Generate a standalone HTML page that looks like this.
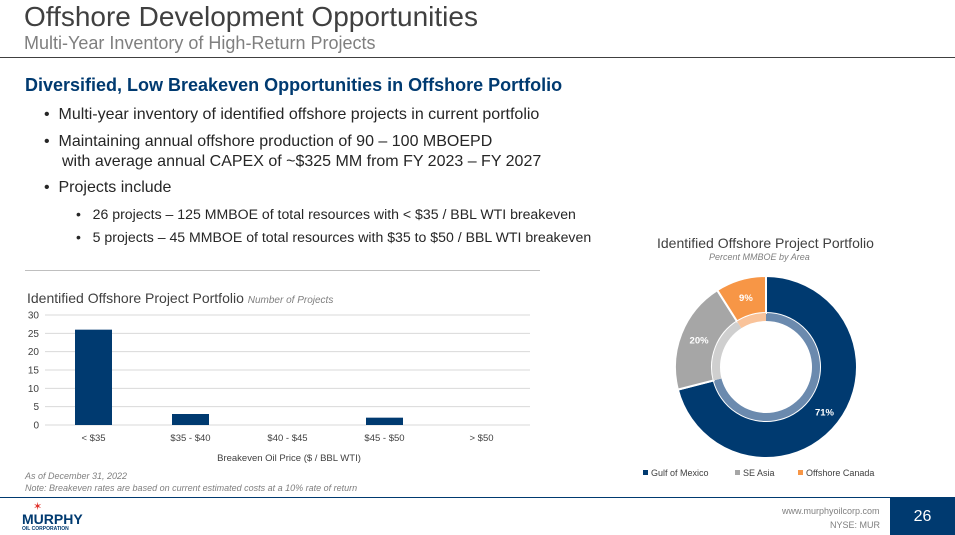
<!DOCTYPE html>
<html><head><meta charset="utf-8"><style>
body{margin:0;width:955px;height:535px;position:relative;background:#fff;font-family:"Liberation Sans",sans-serif;overflow:hidden}
.a{position:absolute;white-space:nowrap}
</style></head><body>
<div class="a" style="left:24px;top:1px;font-size:28px;color:#404040">Offshore Development Opportunities</div>
<div class="a" style="left:24px;top:33px;font-size:18px;color:#7f7f7f">Multi-Year Inventory of High-Return Projects</div>
<div class="a" style="left:0;top:57px;width:955px;height:1px;background:#404040"></div>
<div class="a" style="left:25px;top:75px;font-size:18px;font-weight:bold;color:#003a70">Diversified, Low Breakeven Opportunities in Offshore Portfolio</div>
<div style="position:absolute;left:44px;top:105px;font-size:16px;color:#262626;line-height:20px">
<div class="a" style="top:0">•&nbsp;&nbsp;Multi-year inventory of identified offshore projects in current portfolio</div>
<div class="a" style="top:27px">•&nbsp;&nbsp;Maintaining annual offshore production of 90 – 100 MBOEPD</div>
<div class="a" style="top:47px;left:18px">with average annual CAPEX of ~$325 MM from FY 2023 – FY 2027</div>
<div class="a" style="top:73px">•&nbsp;&nbsp;Projects include</div>
<div class="a" style="top:99px;left:32px;font-size:14.1px">•&nbsp;&nbsp;&nbsp;26 projects – 125 MMBOE of total resources with &lt; $35 / BBL WTI breakeven</div>
<div class="a" style="top:122px;left:32px;font-size:14.1px">•&nbsp;&nbsp;&nbsp;5 projects – 45 MMBOE of total resources with $35 to $50 / BBL WTI breakeven</div>
</div>
<div class="a" style="left:25px;top:270px;width:515px;height:1px;background:#bfbfbf"></div>
<div class="a" style="left:27px;top:290px;font-size:14px;color:#404040">Identified Offshore Project Portfolio <i style="font-size:10px;color:#7f7f7f">Number of Projects</i></div>
<svg class="a" style="left:0;top:0" width="955" height="535" id="bar"></svg>
<div class="a" style="left:25px;top:470px;font-size:9px;font-style:italic;color:#7f7f7f;line-height:12px">As of December 31, 2022<br>Note: Breakeven rates are based on current estimated costs at a 10% rate of return</div>
<div class="a" style="left:657px;top:235px;font-size:14px;color:#404040">Identified Offshore Project Portfolio</div>
<div class="a" style="left:709px;top:252px;font-size:9px;font-style:italic;color:#7f7f7f">Percent MMBOE by Area</div>
<svg class="a" style="left:0;top:0" width="955" height="535" id="donut"></svg>
<div class="a" style="left:0;top:497px;width:955px;height:1px;background:#003a70"></div>
<div class="a" style="left:22px;top:502px;color:#003a70">
<div style="color:#e0322b;font-size:11px;margin-left:11px;line-height:10px">✶</div>
<div style="font-size:14px;font-weight:bold;line-height:14px">MURPHY</div>
<div style="font-size:5px;font-weight:bold;line-height:6px">OIL CORPORATION</div></div>
<div class="a" style="left:782px;top:506px;font-size:9px;color:#7f7f7f">www.murphyoilcorp.com</div>
<div class="a" style="left:830px;top:520px;font-size:9px;color:#7f7f7f">NYSE: MUR</div>
<div class="a" style="left:890px;top:498px;width:65px;height:37px;background:#003a70;color:#fff;font-size:16px;text-align:center;line-height:37px">26</div>
<script>
const categories=["< $35","$35 - $40","$40 - $45","$45 - $50","> $50"];
const projectCounts=[26,3,0,2,0];
const yTicks=[0,5,10,15,20,25,30];
const areas=["Gulf of Mexico","SE Asia","Offshore Canada"];
const areaShares=[71,20,9];
const areaColors=["#003a70","#a6a6a6","#f79646"];
const areaInner=["#6b8aae","#cfcfcf","#f9c39a"];
const NS="http://www.w3.org/2000/svg";
function mk(p,t,a){const e=document.createElementNS(NS,t);for(const k in a)e.setAttribute(k,a[k]);p.appendChild(e);return e;}
const bar=document.getElementById('bar');
const x0=45,x1=530,y0=425,yT=315,yMax=30;
const ys=v=>y0-(v/yMax)*(y0-yT);
const bw=(x1-x0)/categories.length;
const xs=i=>x0+bw*(i+0.5);
yTicks.forEach(t=>{
 const l=mk(bar,'line',{x1:x0,x2:x1,y1:ys(t),y2:ys(t),stroke:'#d9d9d9','stroke-width':1});
 
 
 const tx=mk(bar,'text',{x:39,y:ys(t)+3.5,'text-anchor':'end','font-size':'10','fill':'#404040','font-family':'Liberation Sans'});
 tx.textContent=t;
 
 
});
categories.forEach((c,i)=>{
 const r=mk(bar,'rect',{x:xs(i)-18.5,y:ys(projectCounts[i]),width:37,height:y0-ys(projectCounts[i]),fill:'#003a70'});
 
 
 const tx=mk(bar,'text',{x:xs(i),y:441,'text-anchor':'middle','font-size':'9.5','fill':'#404040','font-family':'Liberation Sans'});
 tx.textContent=c;
 
 
});
const xt=mk(bar,'text',{x:289,y:461,'text-anchor':'middle','font-size':'9.5','fill':'#404040','font-family':'Liberation Sans'});
xt.textContent='Breakeven Oil Price ($ / BBL WTI)';


const dn=document.getElementById('donut');
const cx=766,cy=367,R=91,Rm=54,Ri=46;
function arc(r1,r2,a1,a2){const p=(r,a)=>[cx+r*Math.sin(a),cy-r*Math.cos(a)];const L=a2-a1>Math.PI?1:0;const A=p(r2,a1),B=p(r2,a2),C=p(r1,a2),D=p(r1,a1);return `M${A}A${r2},${r2} 0 ${L} 1 ${B}L${C}A${r1},${r1} 0 ${L} 0 ${D}Z`;}
const tot=areaShares.reduce((a,b)=>a+b,0);let ang=0;
areaShares.forEach((v,i)=>{
 const a2=ang+v/tot*2*Math.PI;
 const s=mk(dn,'path',{d:arc(Rm,R,ang,a2),fill:areaColors[i],stroke:'#fff','stroke-width':2});
 
 
 const s2=mk(dn,'path',{d:arc(Ri,Rm,ang,a2),fill:areaInner[i]});
 
 
 const m=(ang+a2)/2,lr=i==0?74:72;
 const t=mk(dn,'text',{x:cx+lr*Math.sin(m),y:cy-lr*Math.cos(m)+3,'text-anchor':'middle','font-size':'9.5','font-weight':'bold','fill':'#fff','font-family':'Liberation Sans'});
 t.textContent=v+'%';
 
 
 ang=a2;
});
const lx=[643,735,798];
areas.forEach((a,i)=>{
 const r=mk(dn,'rect',{x:lx[i],y:470,width:5,height:5,fill:areaColors[i]});
 
 
 const t=mk(dn,'text',{x:lx[i]+8,y:476,'font-size':'9','fill':'#404040','font-family':'Liberation Sans'});
 t.textContent=a;
 
 
});
</script>
</body></html>
